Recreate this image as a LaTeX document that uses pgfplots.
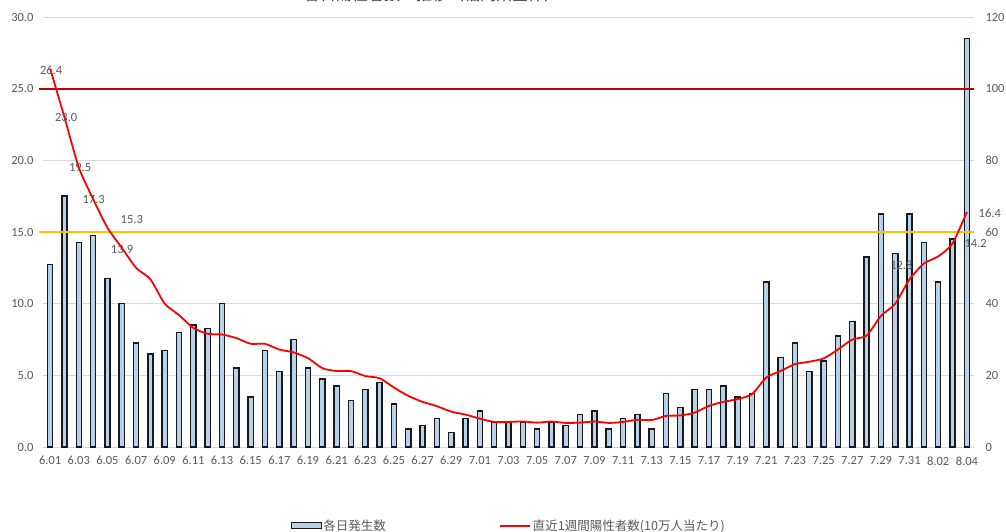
\documentclass[border=0pt]{standalone}
\usepackage{pgfplots}
\pgfplotsset{compat=1.18}
\usepackage{fontspec}
\setmainfont{Carlito}
\newfontfamily\cjk{Noto Sans CJK JP}
\definecolor{tickgray}{HTML}{595959}
\definecolor{gridgray}{HTML}{D9D9D9}
\definecolor{barblue}{HTML}{B8D0E8}
\definecolor{darkred}{HTML}{C00000}
\definecolor{gold}{HTML}{FFC000}
\pgfplotstableread{
x y
0 51
1 70
2 57
3 59
4 47
5 40
6 29
7 26
8 27
9 32
10 34
11 33
12 40
13 22
14 14
15 27
16 21
17 30
18 22
19 19
20 17
21 13
22 16
23 18
24 12
25 5
26 6
27 8
28 4
29 8
30 10
31 7
32 7
33 7
34 5
35 7
36 6
37 9
38 10
39 5
40 8
41 9
42 5
43 15
44 11
45 16
46 16
47 17
48 14
49 15
50 46
51 25
52 29
53 21
54 24
55 31
56 35
57 53
58 65
59 54
60 65
61 57
62 46
63 58
64 114
}\bardata
\pgfplotstableread{
x y
0 26.4
1 23.0
2 19.5
3 17.3
4 15.3
5 13.9
6 12.5
7 11.7
8 10.0
9 9.2
10 8.3
11 7.9
12 7.85
13 7.6
14 7.2
15 7.2
16 6.8
17 6.6
18 6.2
19 5.5
20 5.3
21 5.3
22 4.95
23 4.8
24 4.15
25 3.57
26 3.15
27 2.85
28 2.47
29 2.26
30 1.98
31 1.75
32 1.75
33 1.78
34 1.7
35 1.78
36 1.68
37 1.7
38 1.78
39 1.68
40 1.75
41 1.9
42 1.88
43 2.17
44 2.2
45 2.4
46 2.87
47 3.15
48 3.34
49 3.69
50 4.85
51 5.3
52 5.78
53 5.95
54 6.18
55 6.8
56 7.5
57 7.77
58 9.14
59 10.0
60 11.7
61 12.8
62 13.3
63 14.2
64 16.4
}\linedata
\begin{document}
\begin{tikzpicture}[x=1pt,y=1pt]
% bars on the right axis
\begin{axis}[
  at={(43pt,84pt)}, anchor=south west, scale only axis,
  width=931pt, height=430pt,
  xmin=-0.5, xmax=64.5, ymin=0, ymax=120,
  ybar, bar width=5.2pt,
  axis y line*=right, axis x line*=bottom,
  x axis line style={gridgray, line width=0.8pt},
  y axis line style={draw=none},
  ymajorgrids, grid style={gridgray, line width=0.8pt},
  ytick={0,20,...,120},
  xtick={0,2,...,64},
  xticklabels={6.01,6.03,6.05,6.07,6.09,6.11,6.13,6.15,6.17,6.19,6.21,6.23,6.25,6.27,6.29,7.01,7.03,7.05,7.07,7.09,7.11,7.13,7.15,7.17,7.19,7.21,7.23,7.25,7.27,7.29,7.31,8.02,8.04},
  major tick length=0,
  tick label style={color=tickgray, font=\fontsize{12.5}{15}\selectfont},
  yticklabel style={/pgf/number format/assume math mode=true, xshift=8pt},
  xticklabel style={yshift=-6pt},
]
\addplot[fill=barblue, draw=black!90, line width=1.4pt] table[x=x,y=y] {\bardata};
\end{axis}
% line on the left axis
\begin{axis}[
  at={(43pt,84pt)}, anchor=south west, scale only axis,
  width=931pt, height=430pt,
  xmin=-0.5, xmax=64.5, ymin=0, ymax=30,
  axis y line*=left, hide x axis,
  y axis line style={draw=none},
  ytick={0,5,...,30},
  major tick length=0,
  tick label style={color=tickgray, font=\fontsize{12.5}{15}\selectfont},
  yticklabel style={/pgf/number format/.cd, fixed, fixed zerofill, precision=1, assume math mode=true, /tikz/.cd, xshift=-6pt},
  clip=false,
  legend columns=2,
  legend style={at={(0.5,-0.183)}, anchor=center, draw=none, fill=none,
    font=\cjk\fontsize{12.5}{15}\selectfont, text=tickgray,
    /tikz/every even column/.append style={column sep=112pt},
    nodes={inner sep=1.5pt}},
]
\addplot[darkred, line width=2pt, forget plot] coordinates {(-0.75,25) (64.5,25)};
\addplot[gold, line width=2pt, forget plot] coordinates {(-0.75,15) (64.5,15)};
\addlegendimage{legend image code/.code={\draw[fill=barblue, draw=black!90, line width=1.2pt] (-2pt,-3pt) rectangle (28pt,3pt);}}
\addlegendentry{各日発生数}
\addplot[red, line width=1.8pt, smooth, tension=0.4, line join=round,
  legend image code/.code={\draw[red, line width=2pt] (0pt,0pt) -- (30pt,0pt);}] table[x=x,y=y] {\linedata};
\addlegendentry{直近1週間陽性者数(10万人当たり)}
\begin{scope}[every node/.style={color=tickgray, font=\fontsize{12.5}{15}\selectfont}]
\node at (axis cs:0.07,26.3) {26.4};
\node at (axis cs:1.12,22.97) {23.0};
\node at (axis cs:2.09,19.5) {19.5};
\node at (axis cs:3.04,17.25) {17.3};
\node at (axis cs:5.7,15.9) {15.3};
\node at (axis cs:5.02,13.8) {13.9};
\node at (axis cs:59.43,12.7) {12.8};
\node at (axis cs:64.62,14.17) {14.2};
\node at (axis cs:65.6,16.27) {16.4};
\end{scope}
\end{axis}
\node[anchor=base, font=\cjk\fontsize{16}{18}\selectfont, color=black!80] at (432,530) {各日陽性者数　推移（福岡県全体）};
\pgfresetboundingbox
\useasboundingbox (0,0) rectangle (1006,531);
\end{tikzpicture}
\end{document}
